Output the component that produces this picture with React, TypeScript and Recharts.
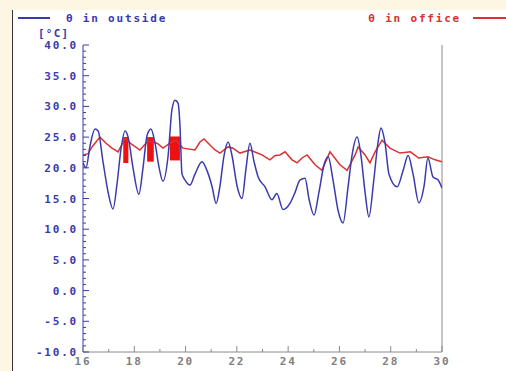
import React from 'react';
import { LineChart, Line, XAxis, YAxis, ReferenceArea, ReferenceLine } from 'recharts';

// outside temperature (day of month, °C)
const outsideDays = [
  16.0, 16.12, 16.27, 16.47, 16.59, 16.78, 16.98, 17.17, 17.33, 17.48, 17.64, 17.76, 17.95,
  18.18, 18.34, 18.5, 18.65, 18.81, 18.97, 19.12, 19.32, 19.47, 19.59, 19.71, 19.78, 19.86,
  19.98, 20.17, 20.37, 20.64, 20.84, 21.03, 21.19, 21.34, 21.5, 21.66, 21.81, 22.01, 22.2,
  22.36, 22.51, 22.67, 22.83, 23.1, 23.37, 23.56, 23.8, 24.07, 24.27, 24.46, 24.66, 24.81,
  25.01, 25.2, 25.4, 25.56, 25.75, 25.95, 26.14, 26.34, 26.49, 26.69, 26.84, 27.0, 27.15,
  27.34, 27.5, 27.62, 27.78, 27.93, 28.25, 28.48, 28.68, 28.87, 29.1, 29.3, 29.45, 29.65,
  29.85, 30.0,
];
const outsideTemps = [
  20.8, 20.0, 23.5, 26.3, 26.0, 21.0, 16.0, 13.3, 17.5, 23.0, 26.0, 25.0, 20.0,
  15.7, 20.0, 25.3, 26.3, 24.0, 20.0, 17.8, 22.0, 29.5, 31.0, 30.5, 27.0, 19.0,
  18.0, 17.2, 19.0, 21.0, 19.5, 17.0, 14.2, 17.0, 22.0, 24.2, 22.0, 17.0, 15.0,
  20.0, 24.0, 21.0, 18.5, 16.9, 14.8, 15.8, 13.2, 14.2, 16.0, 18.0, 18.3, 15.0,
  12.3, 16.0, 20.5, 21.8, 18.0, 13.0, 11.0, 17.0, 22.0, 25.0, 22.0, 16.0, 12.0,
  18.0, 24.0, 26.5, 24.0, 19.0, 16.9, 19.5, 22.0, 19.0, 14.3, 17.0, 21.6, 18.5,
  18.0, 16.7,
];

// office temperature
const officeDays = [
  16.0, 16.2, 16.35, 16.66, 16.9, 17.13, 17.37, 17.64, 17.91, 18.22, 18.54, 18.89, 19.12,
  19.39, 19.63, 19.9, 20.37, 20.56, 20.72, 20.95, 21.15, 21.34, 21.66, 21.85, 22.12, 22.51,
  22.75, 22.98, 23.29, 23.49, 23.68, 23.88, 24.15, 24.35, 24.54, 24.74, 25.05, 25.32, 25.63,
  26.02, 26.3, 26.61, 26.73, 27.0, 27.19, 27.39, 27.66, 27.97, 28.36, 28.77, 29.09, 29.45,
  29.73, 30.0,
];
const officeTemps = [
  22.1, 22.3, 23.4, 25.0, 24.0, 23.2, 22.6, 24.8, 23.8, 22.9, 24.4, 24.0, 23.2,
  24.0, 24.5, 23.2, 22.9, 24.2, 24.7, 23.7, 22.9, 22.4, 23.4, 23.2, 22.4, 22.9,
  22.5, 22.1, 21.3, 22.0, 22.1, 22.6, 21.3, 20.8, 21.6, 22.1, 20.5, 19.6, 22.6,
  20.5, 19.6, 22.1, 23.4, 22.1, 20.8, 22.6, 24.5, 23.2, 22.4, 22.6, 21.6, 21.8,
  21.3, 21.0,
];

// heating periods (red blocks)
const heatStart = [17.57, 18.5, 19.39];
const heatEnd = [17.77, 18.76, 19.78];
const heatLow = [20.8, 21.0, 21.2];
const heatHigh = [25.0, 25.0, 25.1];

const dayTicks = [16, 17, 18, 19, 20, 21, 22, 23, 24, 25, 26, 27, 28, 29, 30];
const tempTicks = Array.from({ length: 51 }, (_, i) => 40 - i);

const outsideData = outsideDays.map((d, i) => ({ day: d, temp: outsideTemps[i] }));
const officeData = officeDays.map((d, i) => ({ day: d, temp: officeTemps[i] }));

const FONT = '"DejaVu Sans Mono", monospace';
const BLUE = '#3a3aae';
const RED = '#d83232';
const GRAY = '#8a8a8a';

const BottomTick = (props: any) => {
  const { x, y, payload } = props;
  const major = payload.value % 2 === 0;
  return (
    <g>
      <line x1={x} y1={y} x2={x} y2={y - (major ? 6 : 3)} stroke={GRAY} />
      {major && (
        <text x={x} y={y + 13} textAnchor="middle" fontFamily={FONT} fontWeight="bold"
          fontSize={11} letterSpacing={1.8} fill="#808080">
          {payload.value}
        </text>
      )}
    </g>
  );
};

const TopTick = (props: any) => {
  const { x, y, payload } = props;
  const major = payload.value % 2 === 0;
  return <line x1={x} y1={y} x2={x} y2={y + (major ? 5 : 3)} stroke={GRAY} />;
};

const LeftTick = (props: any) => {
  const { x, y, payload } = props;
  const major = payload.value % 5 === 0;
  return (
    <g>
      <line x1={x} y1={y} x2={x + (major ? 6 : 3)} y2={y} stroke={BLUE} />
      {major && (
        <text x={x - 5} y={y + 4} textAnchor="end" fontFamily={FONT} fontWeight="bold"
          fontSize={11} letterSpacing={1.8} fill={BLUE}>
          {payload.value.toFixed(1)}
        </text>
      )}
    </g>
  );
};

export default function App() {
  return (
    <div style={{ position: 'fixed', left: 0, top: 0, width: 506, height: 371, background: '#fdf6e3', overflow: 'hidden' }}>
      <div style={{ position: 'absolute', left: 12, top: 10, right: 0, bottom: 0, background: '#fff', borderLeft: '1px solid #333' }} />
      <LineChart width={506} height={371} margin={{ top: 45, right: 64, bottom: 0, left: 0 }}
        style={{ position: 'absolute', left: 0, top: 0 }}>
        <XAxis dataKey="day" type="number" domain={[16, 30]} ticks={dayTicks} allowDataOverflow
          height={19} tickSize={0} tickMargin={0} tickLine={false} interval={0}
          axisLine={{ stroke: GRAY }} tick={<BottomTick />} />
        <XAxis xAxisId="top" orientation="top" dataKey="day" type="number" domain={[16, 30]}
          ticks={dayTicks} height={0} tickSize={0} tickMargin={0} tickLine={false} interval={0}
          axisLine={{ stroke: GRAY }} tick={<TopTick />} />
        <YAxis type="number" domain={[-10, 40]} ticks={tempTicks} width={83} interval={0}
          tickSize={0} tickMargin={0} tickLine={false} axisLine={{ stroke: BLUE }}
          tick={<LeftTick />} allowDataOverflow />
        <ReferenceLine x={30} stroke={GRAY} />
        {heatStart.map((s, i) => (
          <ReferenceArea key={i} x1={s} x2={heatEnd[i]} y1={heatLow[i]} y2={heatHigh[i]}
            fill="#ee1111" fillOpacity={1} stroke="none" />
        ))}
        <Line data={officeData} dataKey="temp" type="linear" stroke={RED} strokeWidth={1.5}
          dot={false} isAnimationActive={false} />
        <Line data={outsideData} dataKey="temp" type="monotone" stroke={BLUE} strokeWidth={1.5}
          dot={false} isAnimationActive={false} />
      </LineChart>
      <svg width={506} height={45} style={{ position: 'absolute', left: 0, top: 0, pointerEvents: 'none' }}>
        <line x1={18} y1={18} x2={50} y2={18} stroke={BLUE} strokeWidth={2} />
        <text x={66} y={22} fontFamily={FONT} fontWeight="bold" fontSize={11} letterSpacing={1.8} fill={BLUE}>
          θ in outside
        </text>
        <text x={461} y={22} textAnchor="end" fontFamily={FONT} fontWeight="bold" fontSize={11}
          letterSpacing={1.8} fill={RED}>
          θ in office
        </text>
        <line x1={473} y1={18} x2={506} y2={18} stroke={RED} strokeWidth={2} />
        <text x={38} y={37} fontFamily={FONT} fontWeight="bold" fontSize={11} letterSpacing={1.2} fill={BLUE}>
          [°C]
        </text>
      </svg>
    </div>
  );
}
